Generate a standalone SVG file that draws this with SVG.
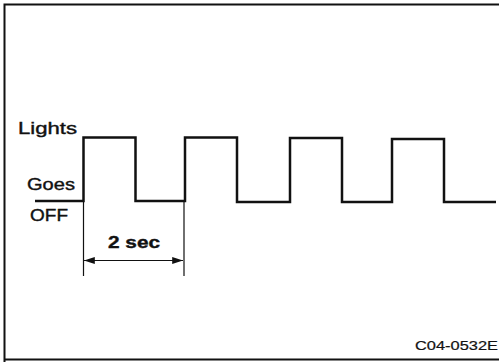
<svg xmlns="http://www.w3.org/2000/svg" width="499" height="362" viewBox="0 0 499 362">
<style>
.t{font-family:"Liberation Sans",Arial,sans-serif;fill:#111;stroke:#111;stroke-width:0.4}
.lbl{font-size:17px}
.w{fill:none;stroke:#111;stroke-width:2.5;stroke-linejoin:miter}
.e{fill:none;stroke:#111;stroke-width:1.2}
</style>
<defs>
<marker id="ah" viewBox="0 0 12 10" refX="12" refY="5" markerWidth="14" markerHeight="9" markerUnits="userSpaceOnUse" orient="auto-start-reverse">
<path d="M0,1 L12,5 L0,9 Z" fill="#111"/>
</marker>
</defs>
<rect fill="#fff" width="499" height="362"/>
<path d="M4.5,362 V4.5 H499 M4,359.5 H499" fill="none" stroke="#111" stroke-width="2"/>
<g id="labels">
<text class="t lbl" x="18" y="134" textLength="59" lengthAdjust="spacingAndGlyphs">Lights</text>
<text class="t lbl" x="27" y="190" textLength="48" lengthAdjust="spacingAndGlyphs">Goes</text>
<text class="t lbl" x="30" y="221" textLength="38" lengthAdjust="spacingAndGlyphs">OFF</text>
</g>
<g id="waveform">
<path class="w" d="M35,201 H83.5 V137.5 H135.5 V201 H185 V137.5 H237 V202 H290 V138 H342 V202 H392 V139 H444 V202 H496"/>
</g>
<g id="connectors">
<path class="e" d="M83.5,201 V276 M184,202 V276"/>
<path class="e" d="M84,260.5 H183" marker-start="url(#ah)" marker-end="url(#ah)" stroke-width="2"/>
</g>
<g id="dimension">
<text class="t" x="108" y="248" font-size="17" font-weight="bold" textLength="52" lengthAdjust="spacingAndGlyphs">2 sec</text>
</g>
<text class="t" x="415" y="350" font-size="12.5" style="stroke-width:0.2" textLength="83" lengthAdjust="spacingAndGlyphs">C04-0532E</text>
</svg>
